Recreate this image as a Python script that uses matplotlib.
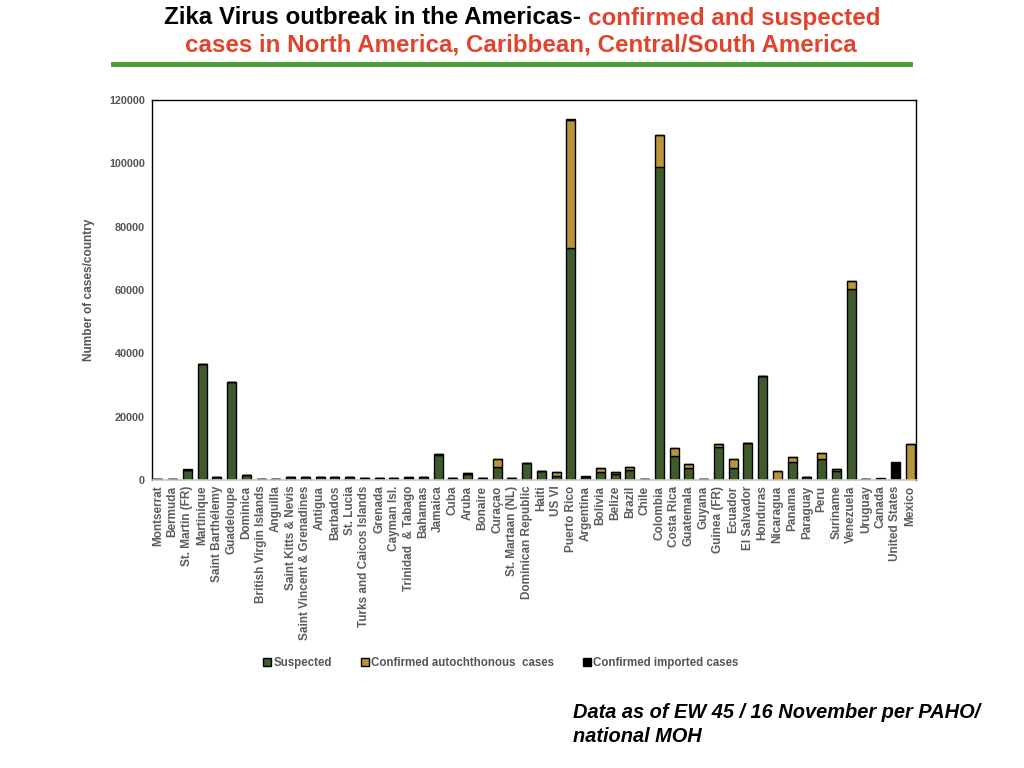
import matplotlib.pyplot as plt
import numpy as np

# 国家 / 地区
countries = ['Montserrat', 'Bermuda', 'St. Martin (FR)', 'Martinique', 'Saint Barthélemy',
             'Guadeloupe', 'Dominica', 'British Virgin Islands', 'Anguilla', 'Saint Kitts & Nevis',
             'Saint Vincent & Grenadines', 'Antigua', 'Barbados', 'St. Lucia',
             'Turks and Caicos Islands', 'Grenada', 'Cayman Isl.', 'Trinidad  & Tabago', 'Bahamas',
             'Jamaica', 'Cuba', 'Aruba', 'Bonaire', 'Curaçao', 'St. Martaan (NL)',
             'Dominican Republic', 'Haiti', 'US VI', 'Puerto Rico', 'Argentina', 'Bolivia',
             'Belize', 'Brazil', 'Chile', 'Colombia', 'Costa Rica', 'Guatemala', 'Guyana',
             'Guinea (FR)', 'Ecuador', 'El Salvador', 'Honduras', 'Nicaragua', 'Panama',
             'Paraguay', 'Peru', 'Suriname', 'Venezuela', 'Uruguay', 'Canada', 'United States',
             'Mexico']

suspected = [250, 250, 3300, 36700, 1100, 31000, 1500, 300, 300, 800,
             800, 800, 800, 1100, 550, 500, 550, 650, 800,
             8000, 500, 1800, 550, 4200, 500,
             5300, 2900, 1300, 73400, 1000, 2600,
             2000, 3100, 300, 99000, 7500, 3700, 300,
             10400, 3700, 11800, 32700, 0, 5600,
             800, 6500, 2750, 60400, 250, 0, 0,
             0]
autochthonous = [0, 0, 0, 0, 0, 0, 0, 0, 0, 0,
                 0, 0, 0, 0, 0, 0, 0, 150, 0,
                 200, 0, 400, 0, 2400, 0,
                 0, 0, 1100, 40400, 0, 1100,
                 500, 1000, 0, 9800, 2500, 1250, 0,
                 900, 2800, 0, 0, 3000, 1600,
                 0, 2000, 650, 2400, 0, 0, 0,
                 11300]
imported = [0, 0, 100, 0, 0, 0, 0, 0, 0, 0,
            0, 0, 0, 0, 0, 0, 0, 0, 0,
            0, 100, 0, 0, 0, 0,
            0, 0, 0, 300, 300, 0,
            0, 0, 100, 0, 0, 0, 0,
            0, 0, 0, 0, 0, 0,
            0, 0, 0, 0, 0, 600, 5800,
            0]

c_susp = '#3f5b2c'
c_auto = '#b8953a'
c_imp = '#000000'
grey = '#555555'

plt.rcParams['font.family'] = ['Liberation Sans', 'DejaVu Sans']

fig = plt.figure(figsize=(10.24, 7.68), dpi=100)
ax = fig.add_axes([152/1024, 1 - 480/768, (916-152)/1024, (480-100)/768])

x = np.arange(len(countries))
s = np.array(suspected)
a = np.array(autochthonous)
im = np.array(imported)
w = 0.6
ax.bar(x, s, w, color=c_susp, edgecolor='black', linewidth=1, label='Suspected')
ax.bar(x, a, w, bottom=s, color=c_auto, edgecolor='black', linewidth=1,
       label='Confirmed autochthonous  cases')
ax.bar(x, im, w, bottom=s + a, color=c_imp, edgecolor='black', linewidth=1,
       label='Confirmed imported cases')

ax.set_xlim(-0.4, len(countries) - 0.6)
ax.set_ylim(0, 120000)
ax.set_yticks(np.arange(0, 120001, 20000))
ax.set_yticklabels([str(v) for v in range(0, 120001, 20000)],
                   fontsize=7.8, fontweight='bold', color=grey)
ax.set_xticks(x)
ax.set_xticklabels(countries, rotation=90, fontsize=8.5, fontweight='bold', color='#5c5c5c')
ax.tick_params(axis='both', length=0, pad=5)
ax.tick_params(axis='x', pad=4)
ax.set_ylabel('Number of cases/country', fontsize=8.6, fontweight='bold', color=grey,
              labelpad=10)
for sp in ['left', 'top', 'right']:
    ax.spines[sp].set_color('black')
    ax.spines[sp].set_linewidth(1)
ax.spines['bottom'].set_color('#c8c8c8')
ax.spines['bottom'].set_linewidth(1.2)

leg = fig.legend(loc='center', bbox_to_anchor=(501/1024, 1 - 663/768), ncol=3,
                 frameon=False, handlelength=0.7, handleheight=0.7, handletextpad=0.2,
                 columnspacing=2.5, prop={'size': 8.3, 'weight': 'bold'})
for t in leg.get_texts():
    t.set_color(grey)

# 标题
red = '#e2432d'
tfont = ['Liberation Sans', 'DejaVu Sans']
fig.text(581/1024, 1 - 18/768, 'Zika Virus outbreak in the Americas-', ha='right', va='center',
         fontsize=17.4, fontweight='bold', color='black', family=tfont)
fig.text(588/1024, 1 - 18/768, 'confirmed and suspected', ha='left', va='center',
         fontsize=17.4, fontweight='bold', color=red, family=tfont)
fig.text(521/1024, 1 - 45/768, 'cases in North America, Caribbean, Central/South America',
         ha='center', va='center', fontsize=17.4, fontweight='bold', color=red, family=tfont)
fig.add_artist(plt.Line2D([113/1024, 910/1024], [1 - 64/768, 1 - 64/768],
                          color='#4a9a35', linewidth=3.5))

fig.text(573/1024, 1 - 713/768, 'Data as of EW 45 / 16 November per PAHO/', ha='left',
         va='center', fontsize=14.4, fontweight='bold', fontstyle='italic')
fig.text(573/1024, 1 - 737/768, 'national MOH', ha='left',
         va='center', fontsize=14.4, fontweight='bold', fontstyle='italic')

fig.savefig('out.png', dpi=100, facecolor='white')
